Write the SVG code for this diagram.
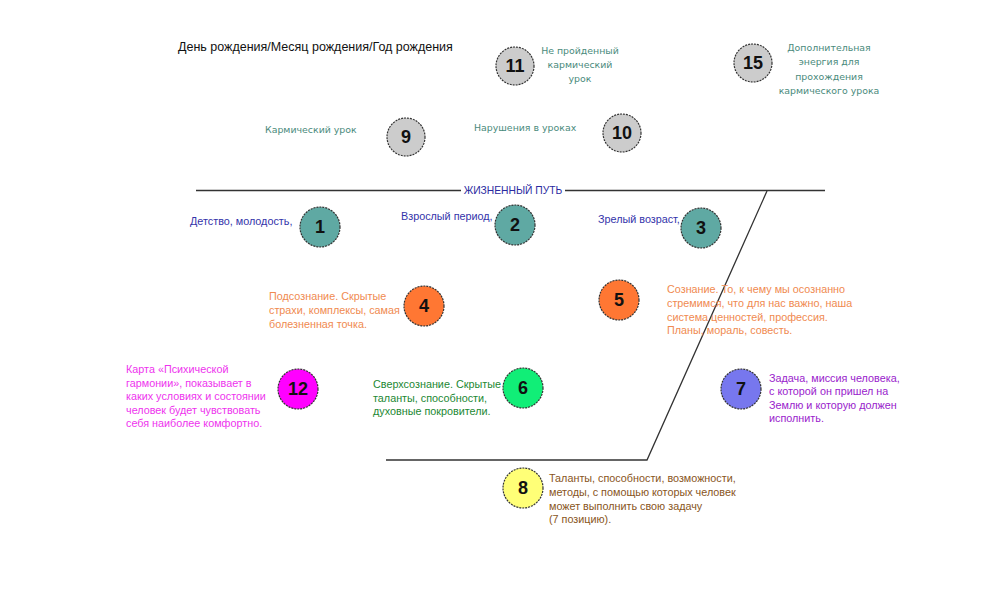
<svg xmlns="http://www.w3.org/2000/svg" width="1000" height="600" viewBox="0 0 1000 600">
<style>
.c{stroke:#333;stroke-width:1.2;stroke-dasharray:2 1}
.n{font-family:"Liberation Sans",Arial,sans-serif;font-weight:bold;font-size:18px;fill:#111;text-anchor:middle}
.t{font-family:"Liberation Sans",Arial,sans-serif;font-size:10.8px}
.v{font-family:"DejaVu Sans",Verdana,sans-serif;font-size:9.4px;fill:#4a8a7c}
.ln{stroke:#333;stroke-width:1.3;fill:none}
</style>
<rect width="1000" height="600" fill="#fff"/>
<g id="connectors">
<line class="ln" x1="196" y1="190.5" x2="461" y2="190.5"/>
<line class="ln" x1="565" y1="190.5" x2="825" y2="190.5"/>
<polyline class="ln" points="767,191 647,460 386,460"/>
</g>
<text x="178" y="51" font-family="Liberation Sans,Arial,sans-serif" font-size="12.5" fill="#111">День рождения/Месяц рождения/Год рождения</text>
<text x="513" y="194" text-anchor="middle" font-family="Liberation Sans,Arial,sans-serif" font-size="10.3" fill="#2a2aa0">ЖИЗНЕННЫЙ ПУТЬ</text>
<g id="n11"><circle class="c" cx="515" cy="66" r="19" fill="#cccccc"/><text class="n" x="515" y="72">11</text>
<text class="v" text-anchor="middle" x="580" y="54">Не пройденный</text><text class="v" text-anchor="middle" x="580" y="68">кармический</text><text class="v" text-anchor="middle" x="580" y="82">урок</text></g>
<g id="n15"><circle class="c" cx="753" cy="63" r="19" fill="#cccccc"/><text class="n" x="753" y="69">15</text>
<text class="v" text-anchor="middle" x="829" y="51">Дополнительная</text><text class="v" text-anchor="middle" x="829" y="65">энергия для</text><text class="v" text-anchor="middle" x="829" y="80">прохождения</text><text class="v" text-anchor="middle" x="829" y="94">кармического урока</text></g>
<g id="n9"><circle class="c" cx="406" cy="137" r="19" fill="#cccccc"/><text class="n" x="406" y="143">9</text>
<text class="v" x="265" y="133">Кармический урок</text></g>
<g id="n10"><circle class="c" cx="622" cy="133" r="19" fill="#cccccc"/><text class="n" x="622" y="139">10</text>
<text class="v" x="474" y="131">Нарушения в уроках</text></g>
<g id="n1"><circle class="c" cx="320" cy="227" r="20" fill="#5fa9a3"/><text class="n" x="320" y="233">1</text>
<text class="t" x="190" y="225" fill="#3333aa">Детство, молодость,</text></g>
<g id="n2"><circle class="c" cx="515" cy="225" r="20" fill="#5fa9a3"/><text class="n" x="515" y="231">2</text>
<text class="t" x="401" y="220" fill="#3333aa">Взрослый период,</text></g>
<g id="n3"><circle class="c" cx="701" cy="228" r="20" fill="#5fa9a3"/><text class="n" x="701" y="234">3</text>
<text class="t" x="598" y="223" fill="#3333aa">Зрелый возраст,</text></g>
<g id="n4"><circle class="c" cx="424" cy="306" r="20" fill="#ff7733"/><text class="n" x="424" y="312">4</text>
<g class="t" fill="#f08a50"><text x="269" y="300">Подсознание. Скрытые</text><text x="269" y="314">страхи, комплексы, самая</text><text x="269" y="328">болезненная точка.</text></g></g>
<g id="n5"><circle class="c" cx="619" cy="300" r="20" fill="#ff7733"/><text class="n" x="619" y="306">5</text>
<g class="t" fill="#f08a50"><text x="667" y="293">Сознание. То, к чему мы осознанно</text><text x="667" y="307">стремимся, что для нас важно, наша</text><text x="667" y="321">система ценностей, профессия.</text><text x="667" y="334">Планы, мораль, совесть.</text></g></g>
<g id="n12"><circle class="c" cx="298" cy="389" r="20" fill="#ff00ff"/><text class="n" x="298" y="395">12</text>
<g class="t" fill="#ee33ee"><text x="126" y="373">Карта «Психической</text><text x="126" y="387">гармонии», показывает в</text><text x="126" y="400">каких условиях и состоянии</text><text x="126" y="414">человек будет чувствовать</text><text x="126" y="427">себя наиболее комфортно.</text></g></g>
<g id="n6"><circle class="c" cx="523" cy="388" r="20" fill="#11ee77"/><text class="n" x="523" y="394">6</text>
<g class="t" fill="#228833"><text x="373" y="388">Сверхсознание. Скрытые</text><text x="373" y="402">таланты, способности,</text><text x="373" y="415">духовные покровители.</text></g></g>
<g id="n7"><circle class="c" cx="741" cy="389" r="20" fill="#7777ee"/><text class="n" x="741" y="395">7</text>
<g class="t" fill="#9922cc"><text x="769" y="382">Задача, миссия человека,</text><text x="769" y="395">с которой он пришел на</text><text x="769" y="409">Землю и которую должен</text><text x="769" y="422">исполнить.</text></g></g>
<g id="n8"><circle class="c" cx="523" cy="488" r="20" fill="#ffff77"/><text class="n" x="523" y="494">8</text>
<g class="t" fill="#885522"><text x="549" y="482">Таланты, способности, возможности,</text><text x="549" y="496">методы, с помощью которых человек</text><text x="549" y="510">может выполнить свою задачу</text><text x="549" y="523">(7 позицию).</text></g></g>
</svg>
